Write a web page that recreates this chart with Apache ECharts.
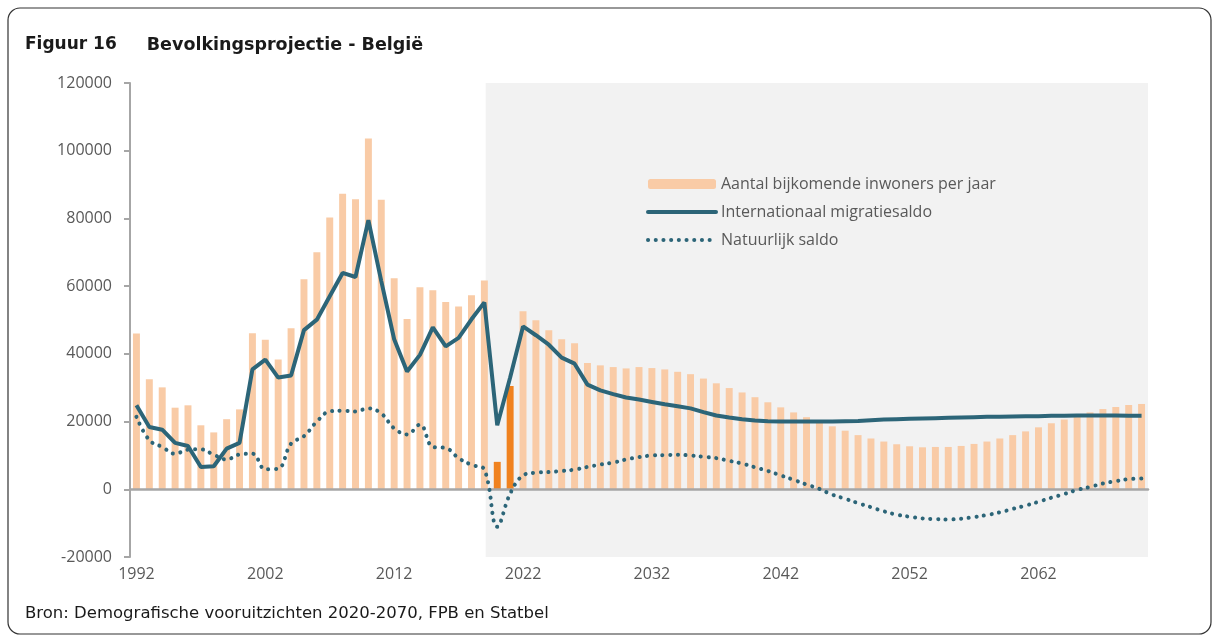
<!DOCTYPE html>
<html>
<head>
<meta charset="utf-8">
<title>Bevolkingsprojectie - België</title>
<script src="https://cdn.jsdelivr.net/npm/echarts@6/dist/echarts.min.js"></script>
<style>
  html, body { margin: 0; padding: 0; background: #fff; }
  #chart { width: 1215px; height: 638px; }
</style>
</head>
<body>
<div id="chart"></div>
<script>
// categories: one per year
const firstYear = 1992
const lastYear = 2070
const years = []
for (let y = firstYear; y <= lastYear; y++) years.push(String(y))

// Aantal bijkomende inwoners per jaar (1992 -> 2070)
const bijkomend = [
  46000, 32500, 30100, 24100, 24800, 18900, 16800, 20700, 23600, 46100,
  44200, 38300, 47600, 62000, 70000, 80300, 87300, 85700, 103600, 85500,
  62300, 50300, 59700, 58800, 55300, 54000, 57300, 61700, 8100, 30500,
  52600, 49900, 47000, 44300, 43100, 37300, 36600, 36100, 35700, 36100,
  35800, 35400, 34700, 34000, 32700, 31300, 29900, 28600, 27200, 25700,
  24200, 22700, 21300, 19900, 18600, 17300, 16000, 15000, 14100, 13300,
  12700, 12400, 12500, 12500, 12800, 13400, 14100, 15000, 16000, 17100,
  18300, 19500, 20600, 21600, 22700, 23700, 24300, 24900, 25200
]

// Internationaal migratiesaldo
const migratie = [
  24800, 18400, 17600, 13700, 12800, 6600, 6800, 12000, 13700, 35400,
  38300, 33000, 33600, 47000, 50100, 57000, 63900, 62700, 79500, 61500,
  44300, 34800, 39700, 47800, 42200, 44700, 50200, 55200, 18900, 33000,
  48100, 45500, 42700, 38900, 37100, 30900, 29200, 28100, 27100, 26500,
  25800, 25100, 24500, 23900, 22800, 21800, 21200, 20700, 20300, 20100,
  20000, 20000, 20000, 20000, 20000, 20100, 20200, 20400, 20600, 20700,
  20800, 20900, 21000, 21100, 21200, 21300, 21400, 21400, 21500, 21600,
  21600, 21700, 21700, 21800, 21800, 21800, 21800, 21700, 21700
]

// Natuurlijk saldo
const natuurlijk = [
  21400, 14500, 12500, 10500, 11700, 11800, 10200, 8800, 10300, 10500,
  5900, 6100, 13500, 15700, 20000, 23000, 23200, 23000, 23900, 22400,
  18000, 16200, 19100, 12500, 12200, 9200, 7200, 5800, -11100, -1300,
  4100, 4900, 5100, 5400, 5800, 6600, 7300, 7900, 8800, 9500,
  10000, 10100, 10200, 10000, 9600, 9200, 8400, 7600, 6500, 5400,
  4100, 2800, 1400, 100, -1600, -2800, -4100, -5300, -6500, -7500,
  -8100, -8600, -8800, -8900, -8700, -8200, -7600, -6800, -5800, -4800,
  -3700, -2500, -1400, -200, 700, 1700, 2400, 3000, 3200
]

const highlightYears = ['2020', '2021']   // jaren in donker oranje
const projectieStart = 2019.1             // begin grijze zone (jaar-as)

const barColor = '#F9CBA6'
const barHighlight = '#F0821F'
const lineColor = '#2C6578'
const axisColor = '#A6A6A6'
const textColor = '#595959'
const axisFont = 'Open Sans'
const titleFont = 'DejaVu Sans'
const solidStyle = { color: lineColor, width: 4 }
const dotStyle = { color: lineColor, width: 4, type: [0.1, 7.6], cap: 'round' }

const chart = echarts.init(document.getElementById('chart'))

chart.setOption({
  animation: false,
  backgroundColor: '#fff',
  title: [
    {
      text: '{a|Figuur 16}{b|Bevolkingsprojectie - België}',
      left: 25,
      top: 36,
      padding: 0,
      textStyle: {
        rich: {
          a: { fontFamily: titleFont, fontWeight: 'bold', fontSize: 17, color: '#1a1a1a' },
          b: { fontFamily: titleFont, fontWeight: 'bold', fontSize: 17.5, color: '#1a1a1a', padding: [0, 0, 0, 30] }
        }
      }
    },
    {
      text: 'Bron: Demografische vooruitzichten 2020-2070, FPB en Statbel',
      left: 25,
      top: 605,
      padding: 0,
      textStyle: { fontFamily: titleFont, fontWeight: 'normal', fontSize: 16.5, color: '#1a1a1a' }
    }
  ],
  graphic: [
    {
      type: 'rect',
      shape: { x: 8, y: 8, width: 1203, height: 626, r: 12 },
      style: { fill: 'none', stroke: '#333', lineWidth: 1.2 },
      silent: true,
      z: -10
    }
  ],
  legend: {
    data: [
      { name: 'Aantal bijkomende inwoners per jaar' },
      { name: 'Internationaal migratiesaldo', itemStyle: { opacity: 0 }, lineStyle: { width: 4, cap: 'round' } },
      { name: 'Natuurlijk saldo', itemStyle: { opacity: 0 }, lineStyle: dotStyle }
    ],
    orient: 'vertical',
    left: 641,
    top: 170,
    itemWidth: 68,
    itemHeight: 10,
    itemGap: 10,
    textStyle: { fontFamily: axisFont, fontSize: 16, color: textColor, lineHeight: 18 }
  },
  grid: { left: 130, right: 67, top: 83, bottom: 81 },
  xAxis: [
    {
      // as op nul
      type: 'category',
      data: years,
      position: 'bottom',
      z: 3,
      axisLine: { onZero: true, lineStyle: { color: axisColor, width: 2.5 } },
      axisTick: { interval: 9, length: 5, lineStyle: { color: axisColor, width: 2 } },
      axisLabel: { show: false },
      splitLine: { show: false }
    },
    {
      // labels onderaan
      type: 'category',
      data: years,
      position: 'bottom',
      axisLine: { show: false, onZero: false },
      axisTick: { show: false },
      axisLabel: { interval: 9, margin: 9, fontFamily: axisFont, fontSize: 16, color: textColor }
    },
    {
      // verborgen jaar-as voor de grijze zone
      type: 'value',
      position: 'top',
      min: firstYear - 0.5,
      max: lastYear + 0.5,
      show: false
    }
  ],
  yAxis: {
    type: 'value',
    min: -20000,
    max: 120000,
    interval: 20000,
    axisLine: { show: true, lineStyle: { color: axisColor, width: 2 } },
    axisTick: { show: true, length: 6, lineStyle: { color: axisColor, width: 2 } },
    axisLabel: {
      margin: 18,
      fontFamily: axisFont,
      fontSize: 16,
      color: textColor,
      formatter: (v) => String(v)
    },
    splitLine: { show: false }
  },
  series: [
    {
      name: 'projectie',
      type: 'line',
      xAxisIndex: 2,
      data: [],
      z: 1,
      silent: true,
      markArea: {
        silent: true,
        itemStyle: { color: '#F2F2F2' },
        data: [[{ xAxis: projectieStart }, { xAxis: lastYear + 0.5 }]]
      }
    },
    {
      name: 'Aantal bijkomende inwoners per jaar',
      type: 'bar',
      z: 2,
      barCategoryGap: '46%',
      itemStyle: { color: barColor },
      data: bijkomend.map((v, i) => highlightYears.includes(years[i])
        ? { value: v, itemStyle: { color: barHighlight } }
        : v)
    },
    {
      name: 'Internationaal migratiesaldo',
      type: 'line',
      z: 5,
      symbol: 'none',
      lineStyle: solidStyle,
      itemStyle: { color: lineColor },
      data: migratie
    },
    {
      name: 'Natuurlijk saldo',
      type: 'line',
      z: 4,
      symbol: 'none',
      smooth: 0.4,
      lineStyle: dotStyle,
      itemStyle: { color: lineColor },
      data: natuurlijk
    }
  ]
})
</script>
</body>
</html>
